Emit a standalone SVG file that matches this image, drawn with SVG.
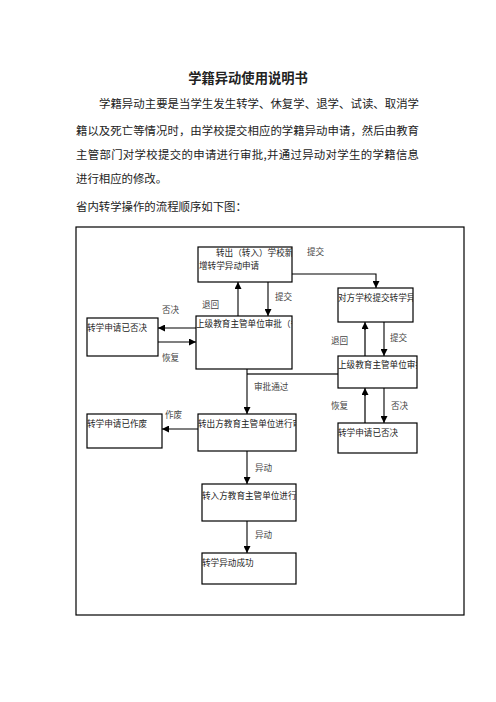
<svg xmlns="http://www.w3.org/2000/svg" width="496" height="702" viewBox="0 0 496 702">
<defs>
<style>
.t{font-family:"Noto Sans CJK SC","Liberation Serif",serif;fill:#222}
.body{font-size:11.4px}
.bx{font-size:8.6px}
.lb{font-size:8.6px;fill:#444}
.box{fill:#fff;stroke:#000;stroke-width:1.2}
.ln{fill:none;stroke:#000;stroke-width:1.1}
.gl{fill:none;stroke:#666;stroke-width:2}
</style>
<marker id="ah" viewBox="0 0 10 10" refX="10" refY="5" markerWidth="7" markerHeight="7" markerUnits="userSpaceOnUse" orient="auto"><path d="M0,0 L10,5 L0,10 z" fill="#000"/></marker>
<clipPath id="c3"><rect x="196" y="316" width="96" height="53"/></clipPath>
<clipPath id="c2"><rect x="338" y="288" width="75" height="34"/></clipPath>
<clipPath id="c5"><rect x="338" y="356" width="79" height="32"/></clipPath>
<clipPath id="c6"><rect x="198" y="414" width="98" height="37"/></clipPath>
<clipPath id="c8"><rect x="202" y="484" width="94" height="37"/></clipPath>
<clipPath id="c1"><rect x="198" y="247" width="94" height="35"/></clipPath>
</defs>
<rect width="496" height="702" fill="#fff"/>
<g id="header">
<text class="t" x="248" y="83" text-anchor="middle" font-size="13.3" font-weight="bold" fill="#000">学籍异动使用说明书</text>
<text class="t body" x="99" y="108" textLength="320" lengthAdjust="spacing">学籍异动主要是当学生发生转学、休复学、退学、试读、取消学</text>
<text class="t body" x="76" y="135" textLength="343" lengthAdjust="spacing">籍以及死亡等情况时，由学校提交相应的学籍异动申请，然后由教育</text>
<text class="t body" x="76" y="159" textLength="343" lengthAdjust="spacing">主管部门对学校提交的申请进行审批,并通过异动对学生的学籍信息</text>
<text class="t body" x="76" y="183">进行相应的修改。</text>
<text class="t body" x="76" y="211">省内转学操作的流程顺序如下图：</text>
</g>
<rect id="frame" x="76" y="227" width="388" height="388" fill="none" stroke="#000" stroke-width="1.2"/>
<g id="connectors">
<path class="ln" d="M292,274 H376 V288" marker-end="url(#ah)"/>
<path class="ln" d="M238,316 V282" marker-end="url(#ah)"/>
<path class="ln" d="M268,282 V316" marker-end="url(#ah)"/>
<path class="ln" d="M196,328 H158" marker-end="url(#ah)"/>
<path class="ln" d="M158,342 H196" marker-end="url(#ah)"/>
<path class="gl" d="M365,356 V324"/>
<path class="ln" d="M365,330 V322" marker-end="url(#ah)"/>
<path class="ln" d="M384,322 V356" marker-end="url(#ah)"/>
<path class="gl" d="M338,374 H247"/>
<path class="ln" d="M247,369 V414" marker-end="url(#ah)"/>
<path class="ln" d="M198,429 H162" marker-end="url(#ah)"/>
<path class="ln" d="M247,451 V484" marker-end="url(#ah)"/>
<path class="ln" d="M247,521 V553" marker-end="url(#ah)"/>
<path class="gl" d="M365,423 V390"/>
<path class="ln" d="M365,396 V388" marker-end="url(#ah)"/>
<path class="ln" d="M384,388 V423" marker-end="url(#ah)"/>
<text class="t lb" x="307" y="255">提交</text>
<text class="t lb" x="202" y="308">退回</text>
<text class="t lb" x="275" y="300">提交</text>
<text class="t lb" x="162" y="313">否决</text>
<text class="t lb" x="162" y="361">恢复</text>
<text class="t lb" x="331" y="344">退回</text>
<text class="t lb" x="390" y="341">提交</text>
<text class="t lb" x="254" y="390">审批通过</text>
<text class="t lb" x="165" y="418">作废</text>
<text class="t lb" x="255" y="471">异动</text>
<text class="t lb" x="255" y="538">异动</text>
<text class="t lb" x="331" y="409">恢复</text>
<text class="t lb" x="391" y="409">否决</text>
</g>
<g id="n1"><rect class="box" x="198" y="247" width="94" height="35"/>
<g clip-path="url(#c1)"><text class="t bx" x="216" y="256">转出（转入）学校新</text>
<text class="t bx" x="199" y="269">增转学异动申请</text></g></g>
<g id="n2"><rect class="box" x="338" y="288" width="75" height="34"/>
<text class="t bx" x="338" y="301" clip-path="url(#c2)">对方学校提交转学异</text></g>
<g id="n3"><rect class="box" x="196" y="316" width="96" height="53"/>
<text class="t bx" x="196" y="327" clip-path="url(#c3)">上级教育主管单位审批（省</text></g>
<g id="n4"><rect class="box" x="87" y="318" width="71" height="38"/>
<text class="t bx" x="87" y="331">转学申请已否决</text></g>
<g id="n5"><rect class="box" x="338" y="356" width="79" height="32"/>
<text class="t bx" x="338" y="368" clip-path="url(#c5)">上级教育主管单位审批</text></g>
<g id="n6"><rect class="box" x="198" y="414" width="98" height="37"/>
<text class="t bx" x="198" y="427" clip-path="url(#c6)">转出方教育主管单位进行审</text></g>
<g id="n7"><rect class="box" x="87" y="414" width="75" height="34"/>
<text class="t bx" x="87" y="427">转学申请已作废</text></g>
<g id="n8"><rect class="box" x="202" y="484" width="94" height="37"/>
<text class="t bx" x="202" y="499" clip-path="url(#c8)">转入方教育主管单位进行异</text></g>
<g id="n9"><rect class="box" x="202" y="553" width="94" height="31"/>
<text class="t bx" x="202" y="566">转学异动成功</text></g>
<g id="n10"><rect class="box" x="338" y="423" width="79" height="30"/>
<text class="t bx" x="338" y="436">转学申请已否决</text></g>
</svg>
